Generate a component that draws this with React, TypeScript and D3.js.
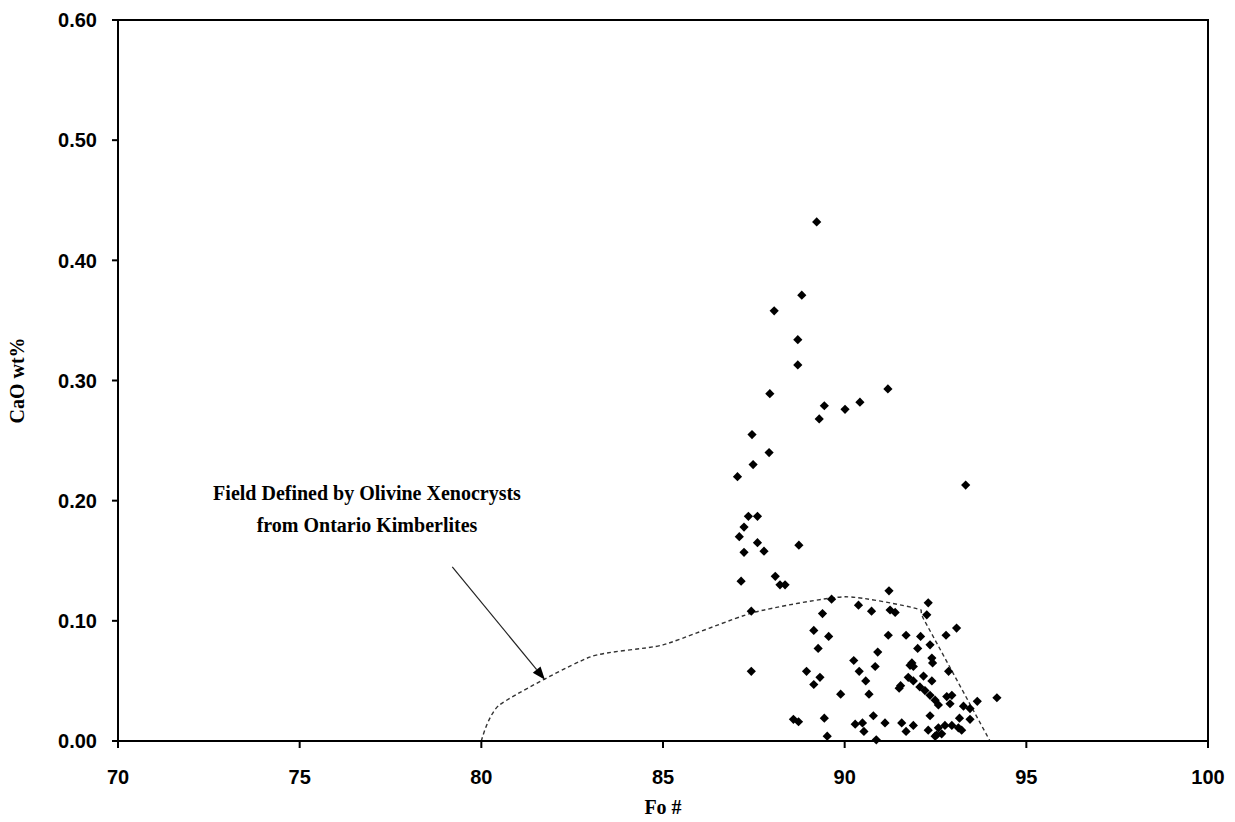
import React from "react";
import * as d3 from "d3";

// Olivine analyses: forsterite number vs CaO wt%
const foNumber = [
  89.23, 88.82, 88.06, 88.71, 88.71, 91.19, 87.94, 90.42, 89.44, 90.01,
  89.30, 87.45, 87.92, 87.48, 87.05, 93.33, 87.35, 87.60, 87.23, 87.10,
  87.60, 88.74, 87.23, 87.78, 88.09, 87.15, 88.22, 88.36, 91.22, 89.64,
  92.30, 90.38, 91.25, 91.39, 87.43, 90.74, 89.39, 92.26, 93.08, 89.15,
  91.20, 91.69, 92.09, 92.79, 89.56, 92.35, 89.27, 92.01, 90.91, 92.40,
  90.25, 92.42, 91.85, 91.89, 91.80, 90.84, 90.40, 88.95, 87.43, 92.86,
  92.17, 89.32, 91.75, 90.58, 92.40, 91.89, 89.15, 91.54, 91.50, 92.07,
  92.21, 90.67, 89.89, 92.35, 92.81, 92.95, 94.19, 92.49, 93.65, 92.58,
  92.90, 93.27, 93.45, 90.79, 92.35, 89.44, 93.16, 93.45, 88.59, 88.73,
  90.49, 91.11, 91.57, 90.29, 91.89, 92.76, 92.95, 92.58, 93.13, 92.30,
  93.22, 90.53, 91.69, 92.67, 92.53, 92.49, 89.52, 90.87,
];
const caoWt = [
  0.432, 0.371, 0.358, 0.334, 0.313, 0.293, 0.289, 0.282, 0.279, 0.276,
  0.268, 0.255, 0.240, 0.230, 0.220, 0.213, 0.187, 0.187, 0.178, 0.170,
  0.165, 0.163, 0.157, 0.158, 0.137, 0.133, 0.130, 0.130, 0.125, 0.118,
  0.115, 0.113, 0.109, 0.107, 0.108, 0.108, 0.106, 0.105, 0.094, 0.092,
  0.088, 0.088, 0.087, 0.088, 0.087, 0.080, 0.077, 0.077, 0.074, 0.069,
  0.067, 0.065, 0.065, 0.062, 0.063, 0.062, 0.058, 0.058, 0.058, 0.058,
  0.054, 0.053, 0.053, 0.050, 0.050, 0.050, 0.047, 0.046, 0.044, 0.045,
  0.042, 0.039, 0.039, 0.038, 0.037, 0.038, 0.036, 0.034, 0.033, 0.030,
  0.031, 0.029, 0.027, 0.021, 0.021, 0.019, 0.019, 0.018, 0.018, 0.016,
  0.015, 0.015, 0.015, 0.014, 0.013, 0.013, 0.013, 0.011, 0.011, 0.009,
  0.009, 0.008, 0.008, 0.006, 0.005, 0.004, 0.004, 0.001,
];

// Outline of the field defined by olivine xenocrysts from Ontario kimberlites
const fieldFo = [80.0, 80.5, 83.0, 85.0, 87.5, 90.0, 92.0, 92.2, 94.0];
const fieldCaO = [0.0, 0.03, 0.07, 0.08, 0.107, 0.12, 0.11, 0.10, 0.0];

const xTicks = [70, 75, 80, 85, 90, 95, 100];
const yTicks = [0, 0.1, 0.2, 0.3, 0.4, 0.5, 0.6];

// Annotation arrow, tail and head in data units
const arrowTail = [79.2, 0.145];
const arrowHead = [81.75, 0.051];

const W = 1235;
const H = 822;
const plot = { left: 118, right: 1208, top: 20, bottom: 741 };

export default function App() {
  const x = d3.scaleLinear().domain([70, 100]).range([plot.left, plot.right]);
  const y = d3.scaleLinear().domain([0, 0.6]).range([plot.bottom, plot.top]);

  const fieldPts: [number, number][] = fieldFo.map((f, i) => [f, fieldCaO[i]]);
  const fieldPath = d3
    .line<[number, number]>()
    .x((d) => x(d[0]))
    .y((d) => y(d[1]))
    .curve(d3.curveCardinal.tension(0.4))(fieldPts);

  const r = 4.6;
  const diamond = `M0,${-r}L${r},0L0,${r}L${-r},0Z`;

  const ax1 = x(arrowTail[0]);
  const ay1 = y(arrowTail[1]);
  const ax2 = x(arrowHead[0]);
  const ay2 = y(arrowHead[1]);
  const ang = Math.atan2(ay2 - ay1, ax2 - ax1);
  const hl = 13;
  const hw = 5;
  const bx = ax2 - hl * Math.cos(ang);
  const by = ay2 - hl * Math.sin(ang);
  const head = `M${ax2},${ay2}L${bx + hw * Math.sin(ang)},${by - hw * Math.cos(ang)}L${bx - hw * Math.sin(ang)},${by + hw * Math.cos(ang)}Z`;

  const tickFont = "'Liberation Sans', Arial, sans-serif";
  const serif = "'Liberation Serif', 'Times New Roman', serif";

  return (
    <svg
      width={W}
      height={H}
      style={{ position: "absolute", left: 0, top: 0, background: "#fff" }}
    >
      <rect x={0} y={0} width={W} height={H} fill="#fff" />

      {/* field outline */}
      <path
        d={fieldPath || ""}
        fill="none"
        stroke="#333"
        strokeWidth={1.4}
        strokeDasharray="4,3"
      />

      {/* data points */}
      {foNumber.map((f, i) => (
        <path
          key={i}
          d={diamond}
          transform={`translate(${x(f)},${y(caoWt[i])})`}
          fill="#000"
        />
      ))}

      {/* plot frame */}
      <rect
        x={plot.left}
        y={plot.top}
        width={plot.right - plot.left}
        height={plot.bottom - plot.top}
        fill="none"
        stroke="#000"
        strokeWidth={2}
      />

      {/* y axis ticks */}
      {yTicks.map((t) => (
        <g key={t}>
          <line
            x1={plot.left - 6}
            x2={plot.left}
            y1={y(t)}
            y2={y(t)}
            stroke="#000"
            strokeWidth={2}
          />
          <text
            x={97}
            y={y(t)}
            dy="0.36em"
            textAnchor="end"
            fontFamily={tickFont}
            fontWeight="bold"
            fontSize={20}
          >
            {d3.format(".2f")(t)}
          </text>
        </g>
      ))}

      {/* x axis ticks */}
      {xTicks.map((t) => (
        <g key={t}>
          <line
            x1={x(t)}
            x2={x(t)}
            y1={plot.bottom}
            y2={plot.bottom + 7}
            stroke="#000"
            strokeWidth={2}
          />
          <text
            x={x(t)}
            y={784}
            textAnchor="middle"
            fontFamily={tickFont}
            fontWeight="bold"
            fontSize={20}
          >
            {t}
          </text>
        </g>
      ))}

      {/* axis titles */}
      <text
        x={663}
        y={814}
        textAnchor="middle"
        fontFamily={serif}
        fontWeight="bold"
        fontSize={20}
      >
        Fo #
      </text>
      <text
        transform={`translate(24,${(plot.top + plot.bottom) / 2}) rotate(-90)`}
        textAnchor="middle"
        fontFamily={serif}
        fontWeight="bold"
        fontSize={20}
      >
        CaO wt%
      </text>

      {/* annotation */}
      <text
        x={367}
        y={500}
        textAnchor="middle"
        fontFamily={serif}
        fontWeight="bold"
        fontSize={20}
      >
        Field Defined by Olivine Xenocrysts
      </text>
      <text
        x={367}
        y={532}
        textAnchor="middle"
        fontFamily={serif}
        fontWeight="bold"
        fontSize={20}
      >
        from Ontario Kimberlites
      </text>
      <line
        x1={ax1}
        y1={ay1}
        x2={bx}
        y2={by}
        stroke="#222"
        strokeWidth={1.2}
      />
      <path d={head} fill="#000" />
    </svg>
  );
}
